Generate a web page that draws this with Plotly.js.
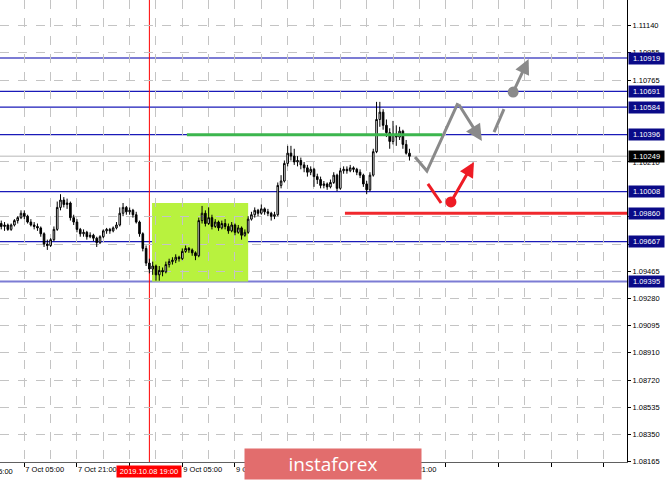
<!DOCTYPE html>
<html>
<head>
<meta charset="utf-8">
<script src="https://cdn.plot.ly/plotly-3.0.1.min.js"></script>
<style>html,body{margin:0;padding:0;background:#fff;}#chart{width:665px;height:481px;}</style>
</head>
<body>
<div id="chart"></div>
<script>
// ---- Candles (H1 bars, left to right) ----
const opens = [1.0979,1.0977,1.0978,1.0975,1.0978,1.0981,1.0983,1.0986,1.0984,1.0980,
1.0978,1.0977,1.0976,1.0972,1.0965,1.0964,1.0968,1.0975,1.0990,1.0995,
1.0992,1.0993,1.0983,1.0980,1.0975,1.0972,1.0973,1.0970,1.0971,1.0969,
1.0966,1.0970,1.0974,1.0975,1.0974,1.0976,1.0978,1.0986,1.0990,1.0987,
1.0988,1.0985,1.0980,1.0972,1.0962,1.0952,1.0948,1.0950,1.0944,1.0947,
1.0946,1.0951,1.0953,1.0954,1.0956,1.0955,1.0960,1.0962,1.0961,1.0959,
1.0957,1.0981,1.0986,1.0979,1.0983,1.0977,1.0980,1.0976,1.0979,1.0977,
1.0974,1.0978,1.0973,1.0976,1.0971,1.0973,1.0982,1.0985,1.0988,1.0986,
1.0989,1.0987,1.0986,1.0984,1.0985,1.1005,1.1008,1.1020,1.1027,1.1025,
1.1021,1.1022,1.1019,1.1017,1.1014,1.1016,1.1011,1.1009,1.1005,1.1006,
1.1004,1.1007,1.1012,1.1003,1.1015,1.1016,1.1015,1.1017,1.1016,1.1014,
1.1012,1.1006,1.1002,1.1012,1.1028,1.1050,1.1055,1.1046,1.1041,1.1035,
1.1040,1.1038,1.1042,1.1033,1.1027];
const highs = [1.0981,1.0980,1.0979,1.0979,1.0982,1.0984,1.0988,1.0988,1.0985,1.0982,
1.0980,1.0979,1.0977,1.0973,1.0968,1.0969,1.0977,1.0994,1.0999,1.0997,
1.0996,1.0994,1.0985,1.0982,1.0976,1.0975,1.0974,1.0973,1.0972,1.0970,
1.0971,1.0975,1.0976,1.0976,1.0977,1.0980,1.0990,1.0993,1.0991,1.0990,
1.0989,1.0987,1.0981,1.0973,1.0964,1.0955,1.0953,1.0951,1.0950,1.0949,
1.0953,1.0955,1.0956,1.0958,1.0957,1.0962,1.0964,1.0963,1.0962,1.0960,
1.0983,1.0991,1.0988,1.0990,1.0985,1.0982,1.0981,1.0981,1.0982,1.0979,
1.0980,1.0979,1.0978,1.0977,1.0975,1.0984,1.0987,1.0990,1.0989,1.0992,
1.0990,1.0989,1.0987,1.0987,1.1007,1.1012,1.1022,1.1032,1.1032,1.1030,
1.1025,1.1024,1.1021,1.1019,1.1018,1.1017,1.1013,1.1011,1.1008,1.1007,
1.1009,1.1014,1.1013,1.1017,1.1018,1.1018,1.1019,1.1018,1.1017,1.1016,
1.1013,1.1008,1.1014,1.1030,1.1062,1.1062,1.1057,1.1050,1.1044,1.1049,
1.1046,1.1045,1.1043,1.1036,1.1030];
const lows = [1.0975,1.0974,1.0974,1.0974,1.0977,1.0979,1.0982,1.0982,1.0979,1.0977,
1.0975,1.0974,1.0970,1.0963,1.0961,1.0963,1.0967,1.0974,1.0988,1.0990,
1.0989,1.0981,1.0978,1.0973,1.0970,1.0970,1.0968,1.0969,1.0967,1.0963,
1.0965,1.0969,1.0972,1.0972,1.0973,1.0975,1.0977,1.0984,1.0985,1.0985,
1.0983,1.0979,1.0970,1.0960,1.0950,1.0945,1.0944,1.0940,1.0940,1.0943,
1.0945,1.0949,1.0951,1.0952,1.0953,1.0954,1.0959,1.0959,1.0957,1.0954,
1.0956,1.0979,1.0977,1.0978,1.0975,1.0976,1.0974,1.0975,1.0975,1.0972,
1.0973,1.0971,1.0972,1.0968,1.0970,1.0972,1.0981,1.0983,1.0984,1.0985,
1.0985,1.0984,1.0981,1.0982,1.0984,1.1003,1.1007,1.1018,1.1022,1.1019,
1.1018,1.1016,1.1014,1.1011,1.1012,1.1004,1.1006,1.1003,1.1003,1.1002,
1.1003,1.1006,1.1001,1.1002,1.1013,1.1013,1.1014,1.1014,1.1012,1.1010,
1.1004,1.0999,1.1001,1.1011,1.1027,1.1045,1.1043,1.1038,1.1030,1.1033,
1.1032,1.1036,1.1030,1.1026,1.1022];
const closes = [1.0977,1.0978,1.0975,1.0978,1.0981,1.0983,1.0986,1.0984,1.0980,1.0978,
1.0977,1.0976,1.0972,1.0965,1.0964,1.0968,1.0975,1.0990,1.0995,1.0992,
1.0993,1.0983,1.0980,1.0975,1.0972,1.0973,1.0970,1.0971,1.0969,1.0966,
1.0970,1.0974,1.0975,1.0974,1.0976,1.0978,1.0986,1.0990,1.0987,1.0988,
1.0985,1.0980,1.0972,1.0962,1.0952,1.0948,1.0950,1.0944,1.0947,1.0946,
1.0951,1.0953,1.0954,1.0956,1.0955,1.0960,1.0962,1.0961,1.0959,1.0957,
1.0981,1.0986,1.0979,1.0983,1.0977,1.0980,1.0976,1.0979,1.0977,1.0974,
1.0978,1.0973,1.0976,1.0971,1.0973,1.0982,1.0985,1.0988,1.0986,1.0989,
1.0987,1.0986,1.0984,1.0985,1.1005,1.1008,1.1020,1.1027,1.1025,1.1021,
1.1022,1.1019,1.1017,1.1014,1.1016,1.1011,1.1009,1.1005,1.1006,1.1004,
1.1007,1.1012,1.1003,1.1015,1.1016,1.1015,1.1017,1.1016,1.1014,1.1012,
1.1006,1.1002,1.1012,1.1028,1.1050,1.1055,1.1046,1.1041,1.1035,1.1040,
1.1038,1.1042,1.1033,1.1027,1.10249];

// ---- Time axis (bar index -> label); labels hidden in the reference are blank ----
const timeTickBars = [7, 23, 39, 55, 71, 87, 103, 119, 135, 151, 167, 183];
const timeTickLabels = ["7 Oct 05:00","7 Oct 21:00","","9 Oct 05:00","9 Oct 21:00","","","11 Oct 21:00","","","",""];
const timeMinorBars = [-1, 15, 31, 47, 63, 79, 95, 111, 127, 143, 159, 175];
const leftCutLabel = "4 Oct 15:00";

// ---- Price axis (ticks fully hidden under level boxes omitted) ----
const priceTicks = [1.11140,1.10955,1.10765,1.10210,1.09840,1.09650,1.09465,1.09280,1.09095,1.08910,1.08720,1.08535,1.08350,1.08165];

// ---- Levels ----
const levelsDark = [1.10691, 1.10584, 1.10396, 1.10008, 1.09667];
const levelsLight = [1.10919, 1.09395];
const currentPrice = 1.10249;
const greenLevel = 1.10396, greenFrom = 56.4, greenTo = 133.9;
const redLevel = 1.09860, redFrom = 104.4;
const zoneX = [45.8, 75.0], zoneY = [1.09395, 1.09930];
const markerBar = 45, markerLabel = "2019.10.08 19:00";

// ---- Forecast arrows ----
const grayPathX = [125.7, 129.3, 138.7, 146.0];
const grayPathY = [1.10244, 1.10148, 1.10612, 1.10353];
const gray2X = [149.7, 152.7];
const gray2Y = [1.10414, 1.10571];
const grayDotX = [155.5], grayDotY = [1.10687];
const grayTipX = [160.2], grayTipY = [1.10912];
const redPathX = [129.6, 133.6];
const redPathY = [1.10060, 1.09930];
const redDotX = [136.6], redDotY = [1.09937];
const redTipX = [143.6], redTipY = [1.10210];

const bars = closes.map((_, i) => i);
const GRAY = '#8a8a8a', RED = '#ee1c25';
const tf = {family: 'Liberation Sans, Arial, sans-serif', size: 7.5, color: '#000'};

const traces = [
  {type: 'candlestick', x: bars, open: opens, high: highs, low: lows, close: closes,
   increasing: {line: {color: '#000', width: 1}, fillcolor: '#ffffff'},
   decreasing: {line: {color: '#000', width: 1}, fillcolor: '#000000'},
   whiskerwidth: 0, hoverinfo: 'skip'},
  {type: 'scatter', mode: 'lines', x: grayPathX.slice(0, 3), y: grayPathY.slice(0, 3),
   line: {color: GRAY, width: 3}, hoverinfo: 'skip'},
  {type: 'scatter', mode: 'lines', x: gray2X, y: gray2Y, line: {color: GRAY, width: 3}, hoverinfo: 'skip'},
  {type: 'scatter', mode: 'markers', x: grayDotX, y: grayDotY, marker: {color: GRAY, size: 11}, hoverinfo: 'skip'},
  {type: 'scatter', mode: 'lines', x: redPathX, y: redPathY, line: {color: RED, width: 3}, hoverinfo: 'skip'},
  {type: 'scatter', mode: 'markers', x: redDotX, y: redDotY, marker: {color: RED, size: 11}, hoverinfo: 'skip'}
];

const shapes = [];
shapes.push({type: 'rect', xref: 'x', yref: 'y', x0: zoneX[0], x1: zoneX[1], y0: zoneY[0], y1: zoneY[1],
  fillcolor: '#b8f23e', line: {width: 0}, layer: 'below'});
levelsDark.forEach(v => shapes.push({type: 'line', xref: 'paper', yref: 'y', x0: 0, x1: 1, y0: v, y1: v,
  line: {color: '#1a1ab8', width: 1.3}, layer: 'between'}));
levelsLight.forEach(v => shapes.push({type: 'line', xref: 'paper', yref: 'y', x0: 0, x1: 1, y0: v, y1: v,
  line: {color: '#7c7cd4', width: 2}, layer: 'between'}));
shapes.push({type: 'line', xref: 'paper', yref: 'y', x0: 0, x1: 1, y0: currentPrice, y1: currentPrice,
  line: {color: '#cfcfcf', width: 1.5}, layer: 'between'});
shapes.push({type: 'line', xref: 'x', yref: 'paper', x0: markerBar, x1: markerBar, y0: 0, y1: 1,
  line: {color: '#ff0000', width: 1}, layer: 'between'});
shapes.push({type: 'line', xref: 'x', yref: 'y', x0: greenFrom, x1: greenTo, y0: greenLevel, y1: greenLevel,
  line: {color: '#3cb64e', width: 3}, layer: 'above'});
shapes.push({type: 'line', xref: 'x', yref: 'y', x0: redFrom, x1: 190.08, y0: redLevel, y1: redLevel,
  line: {color: '#f0282d', width: 3}, layer: 'above'});

const annotations = [];
function priceBox(v, bg) {
  annotations.push({xref: 'paper', yref: 'y', x: 1, y: v, xanchor: 'left', yanchor: 'middle', xshift: 1,
    text: v.toFixed(5), showarrow: false, bgcolor: bg, borderpad: 1, width: 33, height: 9,
    font: {family: tf.family, size: 7.5, color: '#ffffff'}});
}
levelsLight.concat(levelsDark).forEach(v => priceBox(v, '#0a0a88'));
priceBox(redLevel, '#0a0a88');
priceBox(currentPrice, '#000000');

// arrow heads
annotations.push({xref: 'x', yref: 'y', axref: 'x', ayref: 'y', x: grayPathX[3], y: grayPathY[3],
  ax: grayPathX[2], ay: grayPathY[2], text: '', showarrow: true, arrowhead: 2, arrowsize: 1.1,
  arrowwidth: 3, arrowcolor: GRAY, standoff: 0});
annotations.push({xref: 'x', yref: 'y', axref: 'x', ayref: 'y', x: grayTipX[0], y: grayTipY[0],
  ax: grayDotX[0], ay: grayDotY[0], text: '', showarrow: true, arrowhead: 2, arrowsize: 1.0,
  arrowwidth: 3, arrowcolor: GRAY, standoff: 0});
annotations.push({xref: 'x', yref: 'y', axref: 'x', ayref: 'y', x: redTipX[0], y: redTipY[0],
  ax: redDotX[0], ay: redDotY[0], text: '', showarrow: true, arrowhead: 2, arrowsize: 1.0,
  arrowwidth: 3, arrowcolor: RED, standoff: 0});

// date marker label
annotations.push({xref: 'x', yref: 'paper', x: markerBar, y: -0.0206, xanchor: 'center', yanchor: 'middle',
  text: markerLabel, showarrow: false, bgcolor: '#ff0000', borderpad: 1, width: 62, height: 9,
  font: {family: tf.family, size: 7.5, color: '#ffffff'}});
// cut label at left edge
annotations.push({xref: 'paper', yref: 'paper', x: -0.0453, y: -0.0206, xanchor: 'left', yanchor: 'middle',
  text: leftCutLabel, showarrow: false, font: tf});
// watermark
annotations.push({xref: 'paper', yref: 'paper', x: 0.5311, y: -0.0054, xanchor: 'center', yanchor: 'middle',
  text: 'instaforex', showarrow: false, bgcolor: '#e26d6d', borderpad: 2, width: 172, height: 26,
  font: {family: 'Open Sans, sans-serif', size: 19, color: '#ffffff'}});

const layout = {
  width: 665, height: 481,
  margin: {l: 0, r: 38, t: 0, b: 19, pad: 0},
  paper_bgcolor: '#ffffff', plot_bgcolor: '#ffffff',
  showlegend: false,
  xaxis: {
    type: 'linear', range: [-0.38, 190.08], fixedrange: true, rangeslider: {visible: false},
    tickmode: 'array', tickvals: timeTickBars, ticktext: timeTickLabels,
    ticklabelposition: 'outside right',
    ticks: 'outside', ticklen: 4, tickcolor: '#000', tickwidth: 1,
    showgrid: true, gridcolor: '#c4c4c4', griddash: 'dash', gridwidth: 1,
    minor: {tickmode: 'array', tickvals: timeMinorBars, showgrid: true, gridcolor: '#c4c4c4', griddash: 'dash', ticks: ''},
    showline: true, linecolor: '#606060', linewidth: 1, mirror: true,
    zeroline: false, tickfont: tf
  },
  yaxis: {
    side: 'right', range: [1.08163, 1.11315], fixedrange: true,
    tickmode: 'array', tickvals: priceTicks, ticktext: priceTicks.map(v => v.toFixed(5)),
    ticks: 'outside', ticklen: 3, tickcolor: '#000',
    showgrid: true, gridcolor: '#c4c4c4', griddash: 'dash', gridwidth: 1,
    showline: true, linecolor: '#000', linewidth: 1, mirror: false,
    zeroline: false, tickfont: tf
  },
  shapes: shapes,
  annotations: annotations
};

Plotly.newPlot('chart', traces, layout, {staticPlot: true, displayModeBar: false});
</script>
</body>
</html>
